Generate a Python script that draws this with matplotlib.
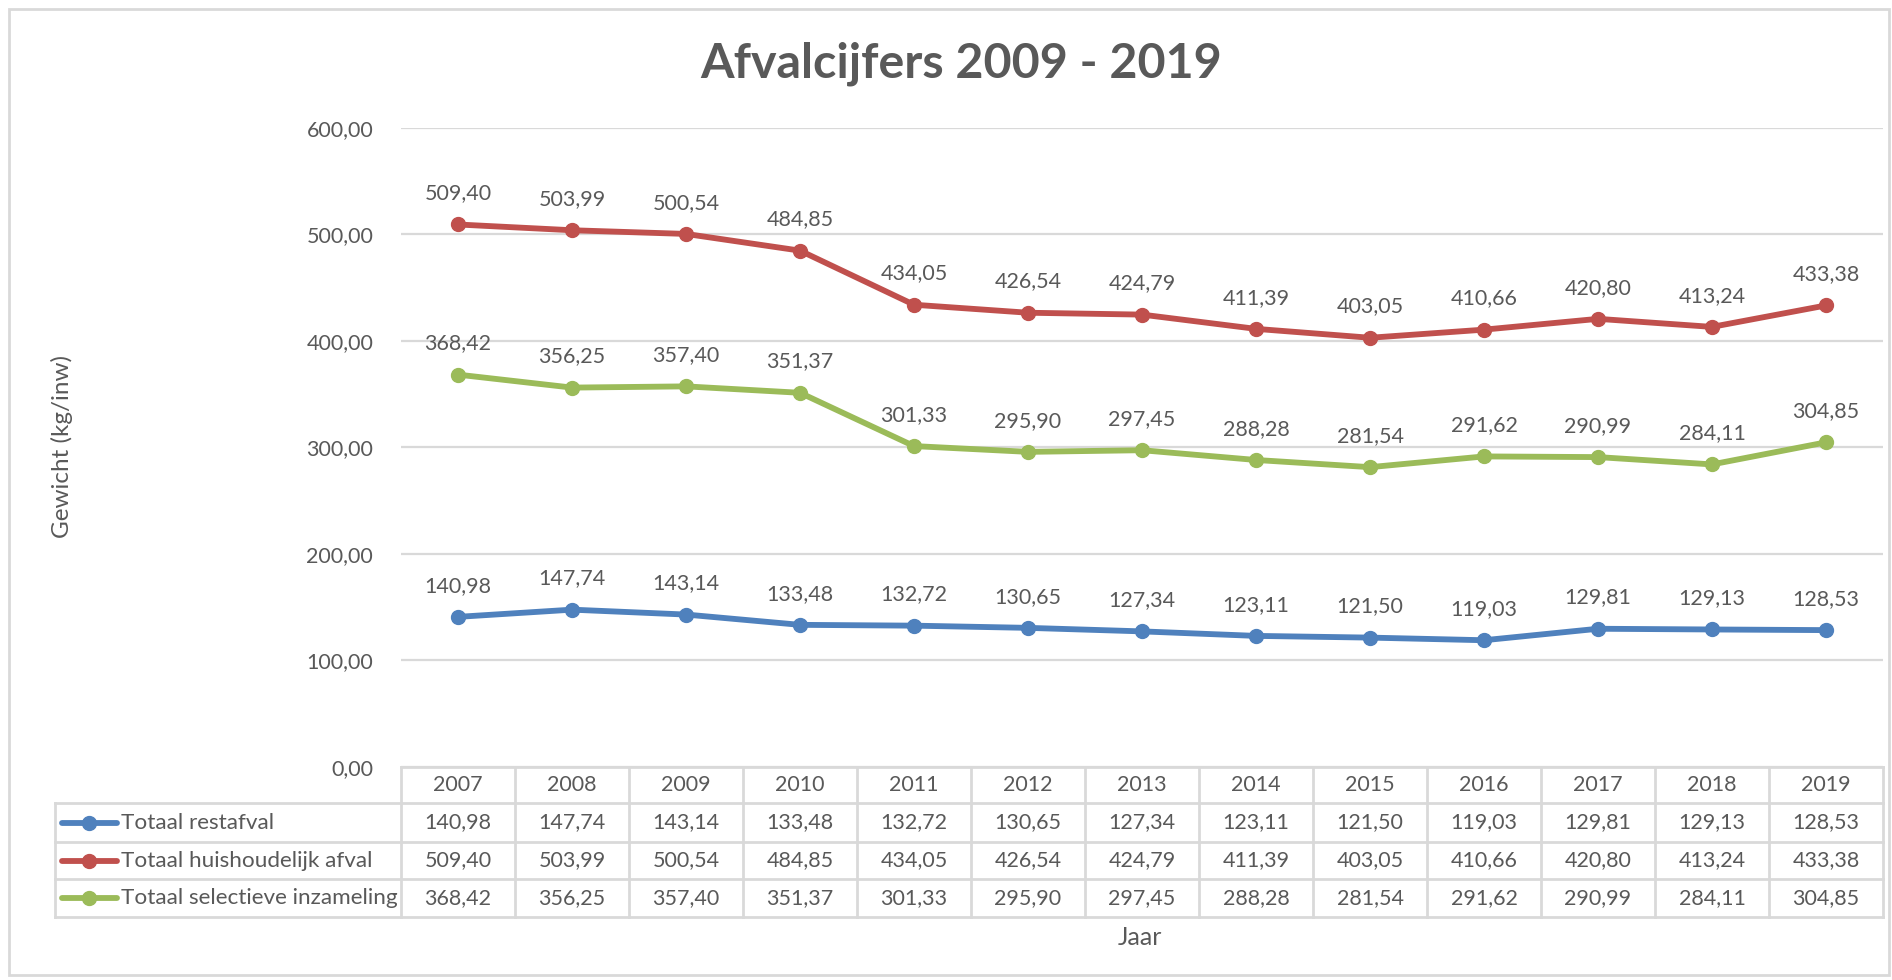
import matplotlib
matplotlib.use("Agg")
import matplotlib.pyplot as plt
from matplotlib.patches import Rectangle
from matplotlib.ticker import FuncFormatter, MultipleLocator
import matplotlib.transforms as mtransforms

# data
jaren = ["2007", "2008", "2009", "2010", "2011", "2012", "2013",
         "2014", "2015", "2016", "2017", "2018", "2019"]
restafval = [140.98, 147.74, 143.14, 133.48, 132.72, 130.65, 127.34,
             123.11, 121.50, 119.03, 129.81, 129.13, 128.53]
huishoudelijk = [509.40, 503.99, 500.54, 484.85, 434.05, 426.54, 424.79,
                 411.39, 403.05, 410.66, 420.80, 413.24, 433.38]
selectief = [368.42, 356.25, 357.40, 351.37, 301.33, 295.90, 297.45,
             288.28, 281.54, 291.62, 290.99, 284.11, 304.85]
reeks_namen = ["Totaal restafval", "Totaal huishoudelijk afval",
               "Totaal selectieve inzameling"]
reeks_kleuren = ["#4F81BD", "#C0504D", "#9BBB59"]

plt.rcParams['font.family'] = ['Lato', 'DejaVu Sans']
TXT = "#595959"
GRID = "#D9D9D9"

W, H = 1892, 980


def fx(px):
    return px / W


def fy(py):
    return 1 - py / H


def nl(v):
    # dutch decimal comma
    return f"{v:.2f}".replace(".", ",")


fig = plt.figure(figsize=(W / 100, H / 100), dpi=100)
fig.patches.append(Rectangle((fx(9), fy(975)), fx(1889) - fx(9), fy(9) - fy(975),
                             transform=fig.transFigure, fill=False,
                             edgecolor=GRID, lw=2))

ax = fig.add_axes([fx(401), fy(767), fx(1883) - fx(401), fy(128) - fy(767)])
x = list(range(len(jaren)))
reeksen = [restafval, huishoudelijk, selectief]

for vals, kleur in zip(reeksen, reeks_kleuren):
    ax.plot(x, vals, color=kleur, lw=4.2, marker="o", markersize=10,
            solid_capstyle="round", zorder=3)
    for i, v in enumerate(vals):
        ax.annotate(nl(v), (i, v), xytext=(0, 22.5), textcoords="offset points",
                    ha="center", va="center", fontsize=15.5, color=TXT)

ax.set_xlim(-0.5, len(jaren) - 0.5)
ax.set_ylim(0, 600)
ax.yaxis.set_major_locator(MultipleLocator(100))
ax.yaxis.set_major_formatter(FuncFormatter(lambda v, p: nl(v)))
ax.tick_params(axis="y", length=0, pad=20, labelsize=15.5, labelcolor=TXT)
ax.set_xticks([])
ax.grid(axis="y", color=GRID, lw=1.6)
ax.set_axisbelow(True)
for s in ax.spines.values():
    s.set_visible(False)

# data table under the axis
tr = mtransforms.blended_transform_factory(ax.transData, fig.transFigure)
rijen = [767, 803, 842, 879, 917]
x0, x1 = -0.5, len(jaren) - 0.5
lkw = dict(color=GRID, lw=2, clip_on=False, zorder=1)
ax.plot([x0, x1], [fy(rijen[0])] * 2, transform=tr, **lkw)
for r in rijen[1:]:
    ax.plot([x0, x1], [fy(r)] * 2, transform=tr, **lkw)
    ax.plot([fx(55), fx(401)], [fy(r)] * 2, transform=fig.transFigure, **lkw)
for k in range(len(jaren) + 1):
    ax.plot([x0 + k, x0 + k], [fy(rijen[0]), fy(rijen[-1])], transform=tr, **lkw)
ax.plot([fx(55), fx(55)], [fy(rijen[1]), fy(rijen[-1])],
        transform=fig.transFigure, **lkw)

for i, j in enumerate(jaren):
    ax.text(i, fy((rijen[0] + rijen[1]) / 2), j, transform=tr, ha="center",
            va="center", fontsize=15.5, color=TXT)
for r, (vals, naam, kleur) in enumerate(zip(reeksen, reeks_namen, reeks_kleuren)):
    ym = fy((rijen[r + 1] + rijen[r + 2]) / 2)
    for i, v in enumerate(vals):
        ax.text(i, ym, nl(v), transform=tr, ha="center", va="center",
                fontsize=15.5, color=TXT)
    ax.plot([fx(62), fx(117)], [ym, ym], transform=fig.transFigure, color=kleur,
            lw=4.2, clip_on=False, solid_capstyle="round")
    ax.plot([fx(89)], [ym], transform=fig.transFigure, color=kleur, marker="o",
            markersize=10, clip_on=False)
    ax.text(fx(121), ym, naam, transform=fig.transFigure, ha="left",
            va="center", fontsize=16.2, color=TXT)

fig.text(fx(961), fy(64), "Afvalcijfers 2009 - 2019", ha="center", va="center",
         fontsize=34.8, fontweight="bold", color=TXT)
fig.text(fx(62), fy(446), "Gewicht (kg/inw)", rotation=90, ha="center",
         va="center", fontsize=17.5, color=TXT)
fig.text(fx(1140), fy(937), "Jaar", ha="center", va="center", fontsize=18,
         color=TXT)

fig.savefig("out.png", dpi=100, facecolor="white")
